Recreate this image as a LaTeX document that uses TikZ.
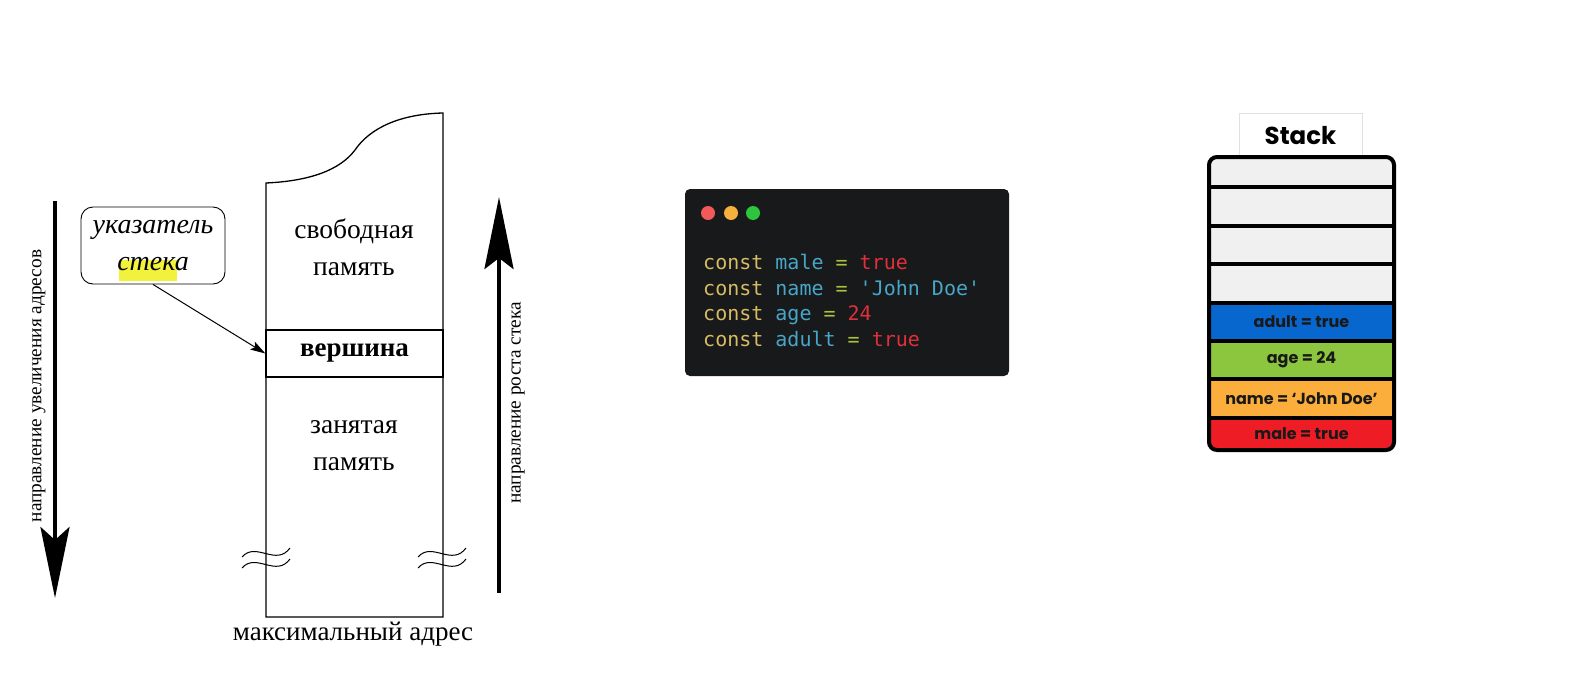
\documentclass[tikz,border=0pt]{standalone}
\usepackage{fontspec}
\setmainfont{Liberation Serif}
\newfontfamily\codefont{DejaVu Sans Mono}
\newfontfamily\stackfont{Poppins}
\usetikzlibrary{arrows.meta}
\definecolor{codebg}{HTML}{17191B}
\definecolor{dred}{HTML}{F25A5A}
\definecolor{dorange}{HTML}{F5B13B}
\definecolor{dgreen}{HTML}{2DC43E}
\definecolor{ckw}{HTML}{D8BB62}
\definecolor{cid}{HTML}{48A6C8}
\definecolor{ceq}{HTML}{A6C43C}
\definecolor{cval}{HTML}{E0303A}
\definecolor{hl}{HTML}{F2F23C}
\definecolor{clight}{HTML}{F0F0F0}
\definecolor{cblue}{HTML}{0767CF}
\definecolor{cgreen}{HTML}{8CC63E}
\definecolor{corange}{HTML}{FBAE3C}
\definecolor{cred}{HTML}{EE1C25}
\tikzset{
  memline/.style={line width=1.3pt},
  memtext/.style={align=center, font=\fontsize{27.5}{37}\selectfont},
  sidetext/.style={rotate=90, font=\fontsize{19.3}{22}\selectfont},
  bigarrow/.style={line width=4pt},
  codeline/.style={anchor=base west, inner sep=0pt, font=\codefont\fontsize{20}{24}\selectfont},
  stackrow/.style={draw=black, line width=4pt, minimum width=185pt, inner sep=0pt, font=\stackfont\bfseries\fontsize{16}{18}\selectfont, text=black!90},
}
\begin{document}
\begin{tikzpicture}[x=1pt,y=-1pt]
\useasboundingbox[fill=white] (0,0) rectangle (1584,696);

% ---------- left: memory column ----------
\draw[memline] (266,183) .. controls (310,181) and (340,170) .. (355,150)
  .. controls (370,128) and (400,114) .. (443,113) -- (443,617) -- (266,617) -- cycle;
\node[draw, memline, minimum width=177pt, minimum height=47pt, inner sep=0pt,
      font=\bfseries\fontsize{27}{30}\selectfont] (top) at (354.5,353.5) {вершина};
\node[memtext] (free) at (354,247) {свободная\\память};
\node[memtext] (used) at (354,446) {занятая\\память};
\node[font=\fontsize{27}{30}\selectfont] (maxaddr) at (353,634) {максимальный адрес};

% break marks
\foreach \x in {242,418}{
  \foreach \dy in {0,11}{
    \draw[line width=1pt] (\x,557+\dy) .. controls (\x+14,541+\dy) and (\x+34,567+\dy) .. (\x+48,548+\dy);
  }
}

% pointer box
\fill[hl] (119,260) rectangle (177,281);
\node[draw, line width=0.9pt, rounded corners=12pt, minimum width=144pt, minimum height=77pt,
      align=center, font=\itshape\fontsize{28}{37}\selectfont] (ptr) at (153,245.5) {указатель\\стека};
\draw[line width=1pt, -{Stealth[length=15pt,width=9pt,inset=3pt]}] (ptr.south) -- (top.west);

% big arrows
\coordinate (la1) at (55,201);
\coordinate (la2) at (55,598);
\draw[bigarrow, -{Stealth[length=71pt,width=29pt,inset=13pt]}] (la1) -- (la2);
\node[sidetext] (lefttext) at (39,386) {направление увеличения адресов};
\coordinate (ra1) at (499,593);
\coordinate (ra2) at (499,197);
\draw[bigarrow, -{Stealth[length=72pt,width=29pt,inset=11pt]}] (ra1) -- (ra2);
\node[sidetext] (righttext) at (518,403) {направление роста стека};

% ---------- middle: code ----------
\node[fill=codebg, rounded corners=5pt, minimum width=324pt, minimum height=187pt, inner sep=0pt] (code) at (847,282.5) {};
\fill[dred] (708,213) circle (7);
\fill[dorange] (731,213) circle (7);
\fill[dgreen] (753,213) circle (7);
\node[codeline] (l1) at (703,269) {\textcolor{ckw}{const} \textcolor{cid}{male} \textcolor{ceq}{=} \textcolor{cval}{true}};
\node[codeline] (l2) at (703,295) {\textcolor{ckw}{const} \textcolor{cid}{name} \textcolor{ceq}{=} \textcolor{cid}{'John Doe'}};
\node[codeline] (l3) at (703,320) {\textcolor{ckw}{const} \textcolor{cid}{age} \textcolor{ceq}{=} \textcolor{cval}{24}};
\node[codeline] (l4) at (703,346) {\textcolor{ckw}{const} \textcolor{cid}{adult} \textcolor{ceq}{=} \textcolor{cval}{true}};

% ---------- right: stack ----------
\node[draw=black!12, fill=white, line width=0.8pt, minimum width=123pt, minimum height=45pt, inner sep=0pt,
      font=\stackfont\bfseries\fontsize{24.5}{30}\selectfont] (title) at (1300.5,135.5) {Stack};
\fill[white] (1209,157) rectangle (1394,450);
\begin{scope}
  \clip[rounded corners=8pt] (1209,157) rectangle (1394,450);
  \node[stackrow, fill=clight, minimum height=30pt] (s1) at (1301.5,172) {};
  \node[stackrow, fill=clight, minimum height=39pt] (s2) at (1301.5,206.5) {};
  \node[stackrow, fill=clight, minimum height=38pt] (s3) at (1301.5,245) {};
  \node[stackrow, fill=clight, minimum height=39pt] (s4) at (1301.5,283.5) {};
  \node[stackrow, fill=cblue, minimum height=38pt] (s5) at (1301.5,322) {adult = true};
  \node[stackrow, fill=cgreen, minimum height=38pt] (s6) at (1301.5,360) {age = 24};
  \node[stackrow, fill=corange, minimum height=39pt] (s7) at (1301.5,398.5) {name = ‘John Doe’};
  \node[stackrow, fill=cred, minimum height=32pt] (s8) at (1301.5,434) {male = true};
\end{scope}
\draw[line width=4pt, rounded corners=8pt] (1209,157) rectangle (1394,450);
\end{tikzpicture}
\end{document}
